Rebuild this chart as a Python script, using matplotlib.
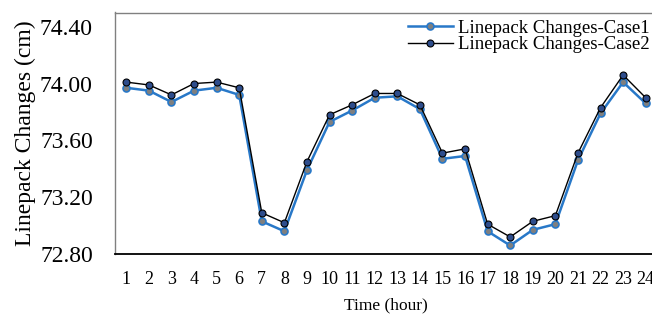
import matplotlib.pyplot as plt
import numpy as np

hours = list(range(1, 25))
case1 = [73.97, 73.95, 73.87, 73.95, 73.97, 73.92, 73.03, 72.96, 73.39, 73.73, 73.81, 73.90,
         73.91, 73.82, 73.47, 73.49, 72.96, 72.86, 72.97, 73.01, 73.46, 73.79, 74.01, 73.86]
case2 = [74.01, 73.99, 73.92, 74.00, 74.01, 73.97, 73.09, 73.02, 73.45, 73.78, 73.85, 73.93,
         73.93, 73.85, 73.51, 73.54, 73.01, 72.92, 73.03, 73.07, 73.51, 73.83, 74.06, 73.90]
yticks = [72.80, 73.20, 73.60, 74.00, 74.40]

plt.rcParams['font.family'] = ['Liberation Serif', 'DejaVu Serif']

fig = plt.figure(figsize=(6.52, 3.2), dpi=100)
ax = fig.add_axes([115 / 652, 66 / 320, 542 / 652, 241.5 / 320])

ax.plot(hours, case1, color='#2878c8', lw=1.8, marker='o', ms=5,
        mfc='#7f7f7f', mec='#2878c8', mew=1.2, label='Linepack Changes-Case1', zorder=2)
ax.plot(hours, case2, color='black', lw=1.0, marker='o', ms=5,
        mfc='#2e4d8c', mec='black', mew=0.8, label='Linepack Changes-Case2', zorder=3)

ax.set_xlim(0.5, 24.5)
ax.set_ylim(72.8, 74.5)
ax.set_xticks(hours)
ax.set_yticks(yticks)
ax.set_yticklabels([f"{v:.2f}" for v in yticks])
ax.tick_params(axis='y', labelsize=17, length=0, pad=16)
ax.tick_params(axis='x', labelsize=13, length=0, pad=12)
ax.set_xlabel('Time (hour)', fontsize=12.5, labelpad=7)
ax.set_ylabel('Linepack Changes (cm)', fontsize=17, labelpad=3)

for s in ['left', 'top', 'right']:
    ax.spines[s].set_color('#808080')
    ax.spines[s].set_linewidth(1.0)
ax.spines['bottom'].set_color('black')
ax.spines['bottom'].set_linewidth(1.3)

ax.legend(loc='upper right', bbox_to_anchor=(652 / 652, 302 / 320), bbox_transform=fig.transFigure,
          frameon=False, fontsize=13.5, handlelength=2.4, handletextpad=0.3,
          borderaxespad=0, labelspacing=-0.05, borderpad=0.1)

fig.savefig('out.png', dpi=100)
